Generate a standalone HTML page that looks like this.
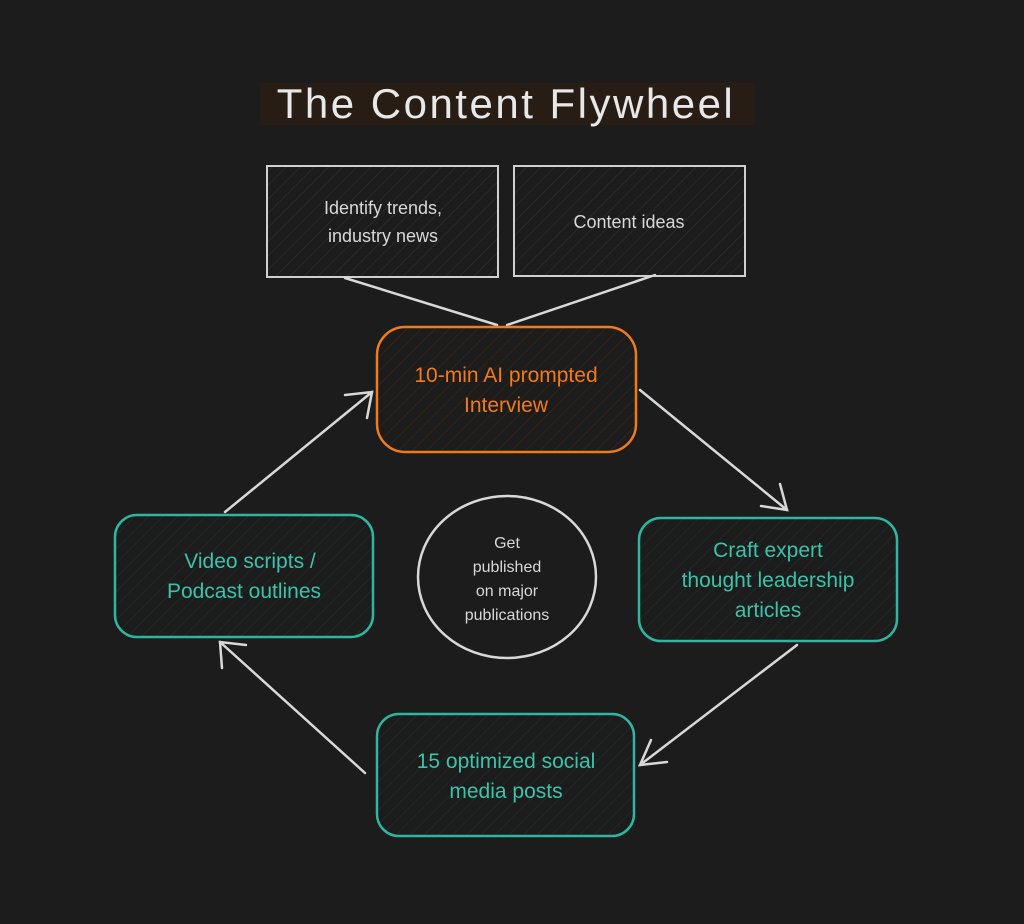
<!DOCTYPE html>
<html><head><style>
html,body{margin:0;padding:0;background:#1c1c1c;}
svg{display:block}
text{font-family:"Liberation Sans",sans-serif;text-anchor:middle}
</style></head><body>
<svg width="1024" height="924" viewBox="0 0 1024 924">
<defs>
<pattern id="h" width="10" height="10" patternUnits="userSpaceOnUse" patternTransform="rotate(45)">
<line x1="0" y1="0" x2="0" y2="10" stroke="#2e2e2e" stroke-width="1.5"/></pattern>
<pattern id="ho" width="10" height="10" patternUnits="userSpaceOnUse" patternTransform="rotate(45)">
<line x1="0" y1="0" x2="0" y2="10" stroke="#3a2616" stroke-width="1.5"/></pattern>
<pattern id="ht" width="10" height="10" patternUnits="userSpaceOnUse" patternTransform="rotate(45)">
<line x1="0" y1="0" x2="0" y2="10" stroke="#1e2e2a" stroke-width="1.5"/></pattern>
</defs>
<rect width="1024" height="924" fill="#1c1c1c"/>
<rect x="260" y="83" width="495" height="42" fill="#271d14"/>
<text x="506" y="118" font-size="42" fill="#e8e8e8" letter-spacing="2.5">The Content Flywheel</text>

<rect x="267" y="166" width="231" height="111" fill="url(#h)" stroke="#d0d0d0" stroke-width="2"/>
<text x="383" y="214" font-size="18" fill="#d8d8d8">Identify trends,</text>
<text x="383" y="242" font-size="18" fill="#d8d8d8">industry news</text>
<rect x="514" y="166" width="231" height="110" fill="url(#h)" stroke="#d0d0d0" stroke-width="2"/>
<text x="629" y="228" font-size="18" fill="#d8d8d8">Content ideas</text>

<g stroke="#d8d8d8" stroke-width="2.5" fill="none" stroke-linecap="round">
<line x1="345" y1="278" x2="497" y2="325"/>
<line x1="655" y1="275" x2="507" y2="325"/>
<line x1="225" y1="512" x2="372" y2="392"/>
<polyline points="345,395 372,392 367,418"/>
<line x1="640" y1="390" x2="787" y2="510"/>
<polyline points="761,506 787,510 780,484"/>
<line x1="797" y1="645" x2="640" y2="765"/>
<polyline points="651,740 640,765 667,762"/>
<line x1="365" y1="773" x2="220" y2="642"/>
<polyline points="222,668 220,642 246,645"/>
</g>

<rect x="377" y="327" width="259" height="125" rx="28" fill="url(#ho)" stroke="#f07a1e" stroke-width="2.5"/>
<text x="506" y="382" font-size="21" fill="#f07a1e">10-min AI prompted</text>
<text x="506" y="412" font-size="21" fill="#f07a1e">Interview</text>

<rect x="115" y="515" width="258" height="122" rx="22" fill="url(#ht)" stroke="#2fb6a0" stroke-width="2.5"/>
<text x="250" y="568" font-size="21" fill="#3cc2aa">Video scripts /</text>
<text x="244" y="598" font-size="21" fill="#3cc2aa">Podcast outlines</text>

<rect x="639" y="518" width="258" height="123" rx="22" fill="url(#ht)" stroke="#2fb6a0" stroke-width="2.5"/>
<text x="768" y="557" font-size="21" fill="#3cc2aa">Craft expert</text>
<text x="768" y="587" font-size="21" fill="#3cc2aa">thought leadership</text>
<text x="768" y="617" font-size="21" fill="#3cc2aa">articles</text>

<rect x="377" y="714" width="257" height="122" rx="22" fill="url(#ht)" stroke="#2fb6a0" stroke-width="2.5"/>
<text x="506" y="768" font-size="21" fill="#3cc2aa">15 optimized social</text>
<text x="506" y="798" font-size="21" fill="#3cc2aa">media posts</text>

<ellipse cx="507" cy="577" rx="89" ry="81" fill="#1c1c1c" stroke="#d8d8d8" stroke-width="2.5"/>
<text x="507" y="548" font-size="16" fill="#d8d8d8">Get</text>
<text x="507" y="572" font-size="16" fill="#d8d8d8">published</text>
<text x="507" y="596" font-size="16" fill="#d8d8d8">on major</text>
<text x="507" y="620" font-size="16" fill="#d8d8d8">publications</text>
</svg>
</body></html>
